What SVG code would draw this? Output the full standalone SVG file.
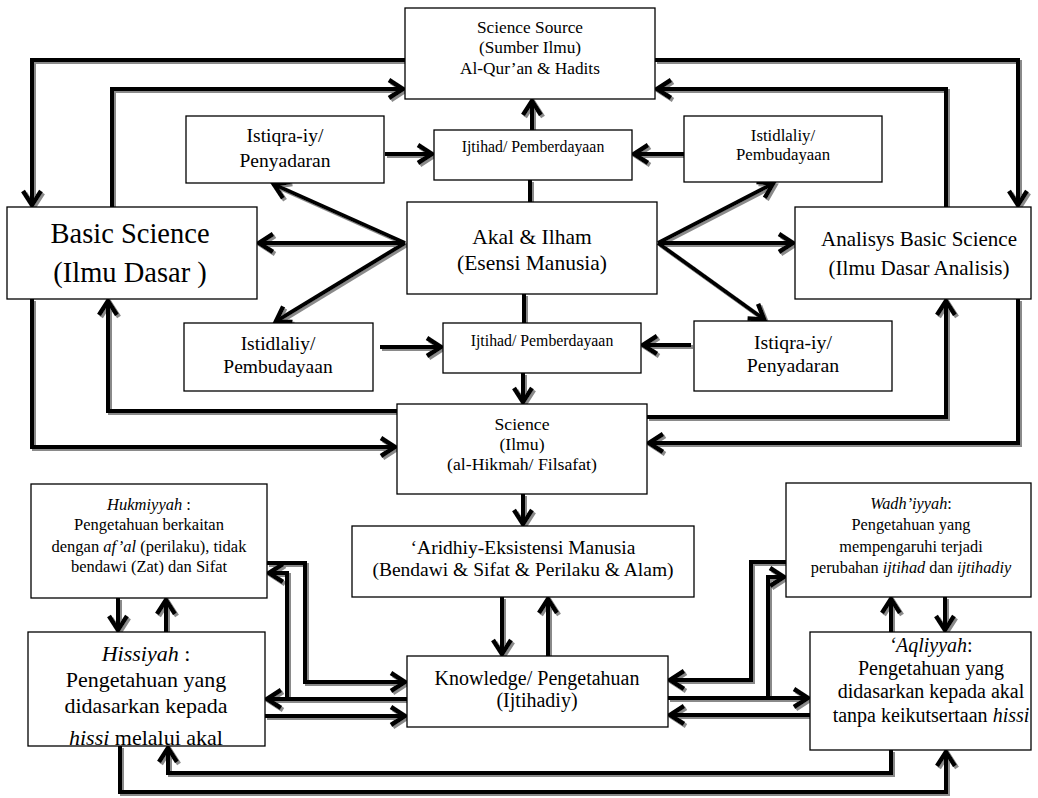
<svg xmlns="http://www.w3.org/2000/svg" width="1038" height="798" viewBox="0 0 1038 798">
<defs>
<style>
.bx{fill:#fff;stroke:#000;stroke-width:1.3}
.t text{fill:#000;text-anchor:middle}
.c path{fill:none;stroke:#000;stroke-width:4;stroke-linejoin:miter}
.a{marker-end:url(#ah)}
.i{font-style:italic}
</style>
<marker id="ah" markerUnits="userSpaceOnUse" orient="auto" overflow="visible" markerWidth="1" markerHeight="1"><path d="M-15,-9 L-1,0 L-15,9" fill="none" stroke="#000" stroke-width="4.5"/></marker>
<filter id="sh" filterUnits="userSpaceOnUse" x="0" y="0" width="1038" height="798"><feDropShadow dx="2" dy="2" stdDeviation="0" flood-color="#8a8a8a" flood-opacity="1"/></filter>
<clipPath id="clipHis"><rect x="28" y="632" width="237" height="114"/></clipPath>
</defs>
<rect width="1038" height="798" fill="#fff"/>
<g id="connectors" class="c" filter="url(#sh)">
<path class="a" d="M405,60 H32 V206"/>
<path class="a" d="M112,207 V89 H404"/>
<path class="a" d="M655,60 H1018 V206"/>
<path class="a" d="M946,207 V89 H656"/>
<path class="a" d="M532,130 V100"/>
<path d="M530,202 V180"/>
<path class="a" d="M385,154 H433"/>
<path class="a" d="M684,154 H633"/>
<path class="a" d="M405,243 H258"/>
<path class="a" d="M405,243 L273,184"/>
<path class="a" d="M405,243 L275,322"/>
<path class="a" d="M658,243 H794"/>
<path class="a" d="M658,243 L774,183"/>
<path class="a" d="M658,243 L765,320"/>
<path d="M524,294 V323"/>
<path class="a" d="M380,347 H442"/>
<path class="a" d="M691,345 H642"/>
<path class="a" d="M523,373 V403"/>
<path class="a" d="M397,411 H108 V300"/>
<path class="a" d="M32,299 V447 H396"/>
<path class="a" d="M647,417 H946 V300"/>
<path class="a" d="M1018,299 V443 H648"/>
<path class="a" d="M523,494 V525"/>
<path class="a" d="M502,597 V655"/>
<path class="a" d="M548,656 V598"/>
<path class="a" d="M118,598 V631"/>
<path class="a" d="M166,632 V599"/>
<path class="a" d="M945,597 V631"/>
<path class="a" d="M891,632 V598"/>
<path class="a" d="M267,563 H305 V682 H406"/>
<path class="a" d="M407,699 H266"/>
<path class="a" d="M287,699 V573 H268"/>
<path class="a" d="M265,716 H406"/>
<path class="a" d="M786,562 H751 V680 H669"/>
<path class="a" d="M668,698 H809"/>
<path class="a" d="M768,698 V577 H785"/>
<path class="a" d="M810,715 H669"/>
<path class="a" d="M891,750 V773 H168 V747"/>
<path class="a" d="M120,746 V792 H946 V751"/>
</g>
<g class="t" font-family="Liberation Serif, DejaVu Serif, serif">
<g id="n-source">
<rect class="bx" x="405" y="8" width="250" height="91"/>
<text x="530" y="33" font-size="17.3">Science Source</text>
<text x="530" y="53" font-size="17.3">(Sumber Ilmu)</text>
<text x="530" y="74" font-size="17.3">Al-Qur’an &amp; Hadits</text>
</g>
<g id="n-istiqra-top">
<rect class="bx" x="186" y="116" width="198" height="67"/>
<text x="285" y="142" font-size="19.5">Istiqra-iy/</text>
<text x="285" y="167" font-size="19.5">Penyadaran</text>
</g>
<g id="n-ijtihad-top">
<rect class="bx" x="434" y="130" width="198" height="50"/>
<text x="533" y="152" font-size="15.8">Ijtihad/ Pemberdayaan</text>
</g>
<g id="n-istidlaliy-top">
<rect class="bx" x="684" y="116" width="198" height="66"/>
<text x="783" y="141" font-size="16.8">Istidlaliy/</text>
<text x="783" y="160" font-size="16.8">Pembudayaan</text>
</g>
<g id="n-basic">
<rect class="bx" x="7" y="207" width="250" height="92"/>
<text x="130" y="243" font-size="28.5">Basic Science</text>
<text x="130" y="282" font-size="28.5">(Ilmu Dasar )</text>
</g>
<g id="n-akal">
<rect class="bx" x="407" y="202" width="250" height="92"/>
<text x="532" y="244" font-size="21.5">Akal &amp; Ilham</text>
<text x="532" y="270" font-size="21.5">(Esensi Manusia)</text>
</g>
<g id="n-analisys">
<rect class="bx" x="795" y="207" width="236" height="92"/>
<text x="919" y="246" font-size="21">Analisys Basic Science</text>
<text x="919" y="275" font-size="21">(Ilmu Dasar Analisis)</text>
</g>
<g id="n-istidlaliy-bottom">
<rect class="bx" x="184" y="323" width="189" height="68"/>
<text x="278" y="350" font-size="19.5">Istidlaliy/</text>
<text x="278" y="373" font-size="19.5">Pembudayaan</text>
</g>
<g id="n-ijtihad-bottom">
<rect class="bx" x="443" y="323" width="198" height="50"/>
<text x="542" y="346" font-size="15.8">Ijtihad/ Pemberdayaan</text>
</g>
<g id="n-istiqra-bottom">
<rect class="bx" x="694" y="321" width="198" height="70"/>
<text x="793" y="349" font-size="19.8">Istiqra-iy/</text>
<text x="793" y="372" font-size="19.8">Penyadaran</text>
</g>
<g id="n-science">
<rect class="bx" x="397" y="404" width="250" height="90"/>
<text x="522" y="430" font-size="17.7">Science</text>
<text x="522" y="450" font-size="17.7">(Ilmu)</text>
<text x="522" y="470" font-size="17.7">(al-Hikmah/ Filsafat)</text>
</g>
<g id="n-hukmiyyah">
<rect class="bx" x="31" y="484" width="236" height="114"/>
<text x="149" y="510" font-size="16.5"><tspan class="i">Hukmiyyah</tspan> :</text>
<text x="149" y="530" font-size="16.5">Pengetahuan berkaitan</text>
<text x="149" y="552" font-size="16.5">dengan <tspan class="i">af’al</tspan> (perilaku), tidak</text>
<text x="149" y="572" font-size="16.5">bendawi (Zat) dan Sifat</text>
</g>
<g id="n-aridhiy">
<rect class="bx" x="352" y="526" width="342" height="71"/>
<text x="523" y="554" font-size="19.5">‘Aridhiy-Eksistensi Manusia</text>
<text x="523" y="576" font-size="19.5">(Bendawi &amp; Sifat &amp; Perilaku &amp; Alam)</text>
</g>
<g id="n-wadhiyyah">
<rect class="bx" x="786" y="483" width="245" height="114"/>
<text x="911" y="509" font-size="16.3"><tspan class="i">Wadh’iyyah</tspan>:</text>
<text x="911" y="530" font-size="16.3">Pengetahuan yang</text>
<text x="911" y="552" font-size="16.3">mempengaruhi terjadi</text>
<text x="911" y="573" font-size="16.3">perubahan <tspan class="i">ijtihad</tspan> dan <tspan class="i">ijtihadiy</tspan></text>
</g>
<g id="n-knowledge">
<rect class="bx" x="407" y="656" width="261" height="71"/>
<text x="537" y="685" font-size="20">Knowledge/ Pengetahuan</text>
<text x="537" y="707" font-size="20">(Ijtihadiy)</text>
</g>
<g id="n-hissiyah">
<rect class="bx" x="28" y="632" width="237" height="114"/>
<g clip-path="url(#clipHis)">
<text x="146" y="661" font-size="22"><tspan class="i">Hissiyah</tspan> :</text>
<text x="146" y="687" font-size="22">Pengetahuan yang</text>
<text x="146" y="713" font-size="22">didasarkan kepada</text>
<text x="146" y="745" font-size="22"><tspan class="i">hissi</tspan> melalui akal</text>
</g>
</g>
<g id="n-aqliyyah">
<rect class="bx" x="810" y="632" width="221" height="118"/>
<text x="931" y="652" font-size="20"><tspan class="i">‘Aqliyyah</tspan>:</text>
<text x="931" y="675" font-size="20">Pengetahuan yang</text>
<text x="931" y="698" font-size="20">didasarkan kepada akal</text>
<text x="931" y="722" font-size="20">tanpa keikutsertaan <tspan class="i">hissi</tspan></text>
</g>
</g>
</svg>
